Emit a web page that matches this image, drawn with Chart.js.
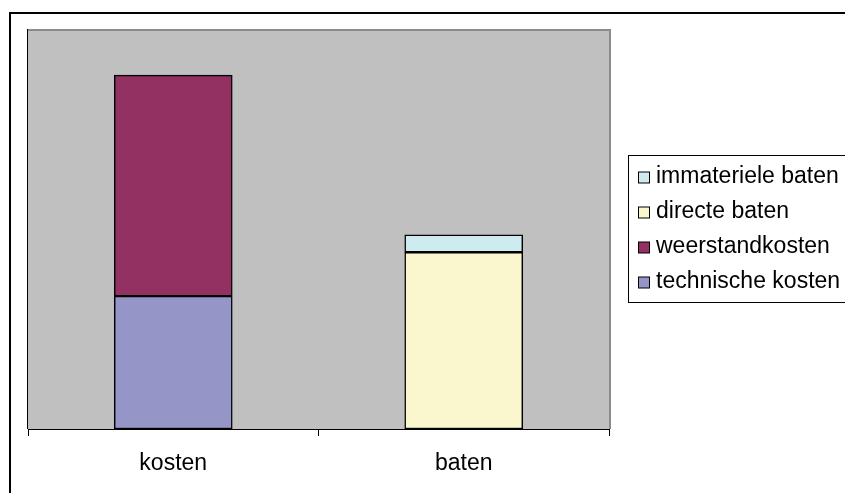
<!DOCTYPE html>
<html>
<head>
<meta charset="utf-8">
<script src="https://cdn.jsdelivr.net/npm/chart.js@4.4.1/dist/chart.umd.min.js"></script>
<style>
  html, body { margin: 0; padding: 0; background: #fff; }
  #wrap { width: 845px; height: 493px; position: relative; }
</style>
</head>
<body>
<div id="wrap"><canvas id="myChart" width="845" height="493"></canvas></div>
<script>
const categories = ['kosten', 'baten'];
const technischeKosten = [33.4, null];
const weerstandKosten = [55.5, null];
const directeBaten = [null, 44.4];
const immaterieleBaten = [null, 4.4];

const seriesNames = ['technische kosten', 'weerstandkosten', 'directe baten', 'immateriele baten'];
const seriesColors = ['#9595C8', '#933262', '#FAF7CF', '#CEECEF'];
const seriesValues = [technischeKosten, weerstandKosten, directeBaten, immaterieleBaten];

const FONT = '"Liberation Sans", Arial, sans-serif';

// grey plot area, frame around the whole chart
const plotBackground = {
  id: 'plotBackground',
  beforeDraw(chart) {
    const c = chart.ctx;
    const a = chart.chartArea;
    c.save();
    c.fillStyle = '#fff';
    c.fillRect(0, 0, chart.width, chart.height);
    c.strokeStyle = '#000';
    c.lineWidth = 2;
    c.strokeRect(10, 13, chart.width + 20, chart.height + 20);
    c.fillStyle = '#C0C0C0';
    c.fillRect(a.left, a.top, a.right - a.left, a.bottom - a.top);
    c.strokeStyle = '#8C8C8C';
    c.lineWidth = 2;
    c.beginPath();
    c.moveTo(a.left, a.top - 1);
    c.lineTo(a.right + 1, a.top - 1);
    c.lineTo(a.right + 1, a.bottom);
    c.stroke();
    c.strokeStyle = '#000';
    c.lineWidth = 1;
    c.beginPath();
    c.moveTo(a.left - 0.5, a.top - 2);
    c.lineTo(a.left - 0.5, a.bottom);
    c.stroke();
    c.restore();
  }
};

// boxed legend on the right, top item is the last series
const boxLegend = {
  id: 'boxLegend',
  afterDraw(chart) {
    const c = chart.ctx;
    c.save();
    c.strokeStyle = '#000';
    c.lineWidth = 1;
    c.strokeRect(628.5, 155.5, 240, 147);
    c.font = '23px ' + FONT;
    c.textBaseline = 'alphabetic';
    const ds = chart.data.datasets.slice().reverse();
    ds.forEach((d, i) => {
      const bottom = 183 + i * 35;
      c.fillStyle = d.backgroundColor;
      c.fillRect(638.5, bottom - 11, 11, 11);
      c.strokeStyle = '#000';
      c.lineWidth = 1;
      c.strokeRect(638.5, bottom - 11, 11, 11);
      c.fillStyle = '#000';
      c.fillText(d.label, 656, bottom);
    });
    c.restore();
  }
};

const ctx = document.getElementById('myChart');

new Chart(ctx, {
  type: 'bar',
  data: {
    labels: categories,
    datasets: seriesNames.map((name, i) => ({
      label: name,
      data: seriesValues[i],
      backgroundColor: seriesColors[i],
      borderColor: '#000',
      borderWidth: 1.5,
      borderSkipped: false,
      barThickness: 118
    }))
  },
  options: {
    responsive: false,
    animation: false,
    layout: { padding: { left: 28, right: 236, top: 31, bottom: 0 } },
    plugins: {
      legend: { display: false },
      tooltip: { enabled: false }
    },
    scales: {
      x: {
        stacked: true,
        afterFit: (scale) => { scale.height = 64; },
        grid: {
          offset: true,
          drawOnChartArea: false,
          drawTicks: true,
          tickLength: 7,
          color: '#000'
        },
        border: { display: true, color: '#000', width: 1 },
        ticks: {
          color: '#000',
          padding: 14,
          font: { family: FONT, size: 23 }
        }
      },
      y: {
        stacked: true,
        display: false,
        min: 0,
        max: 100
      }
    }
  },
  plugins: [plotBackground, boxLegend]
});
</script>
</body>
</html>
